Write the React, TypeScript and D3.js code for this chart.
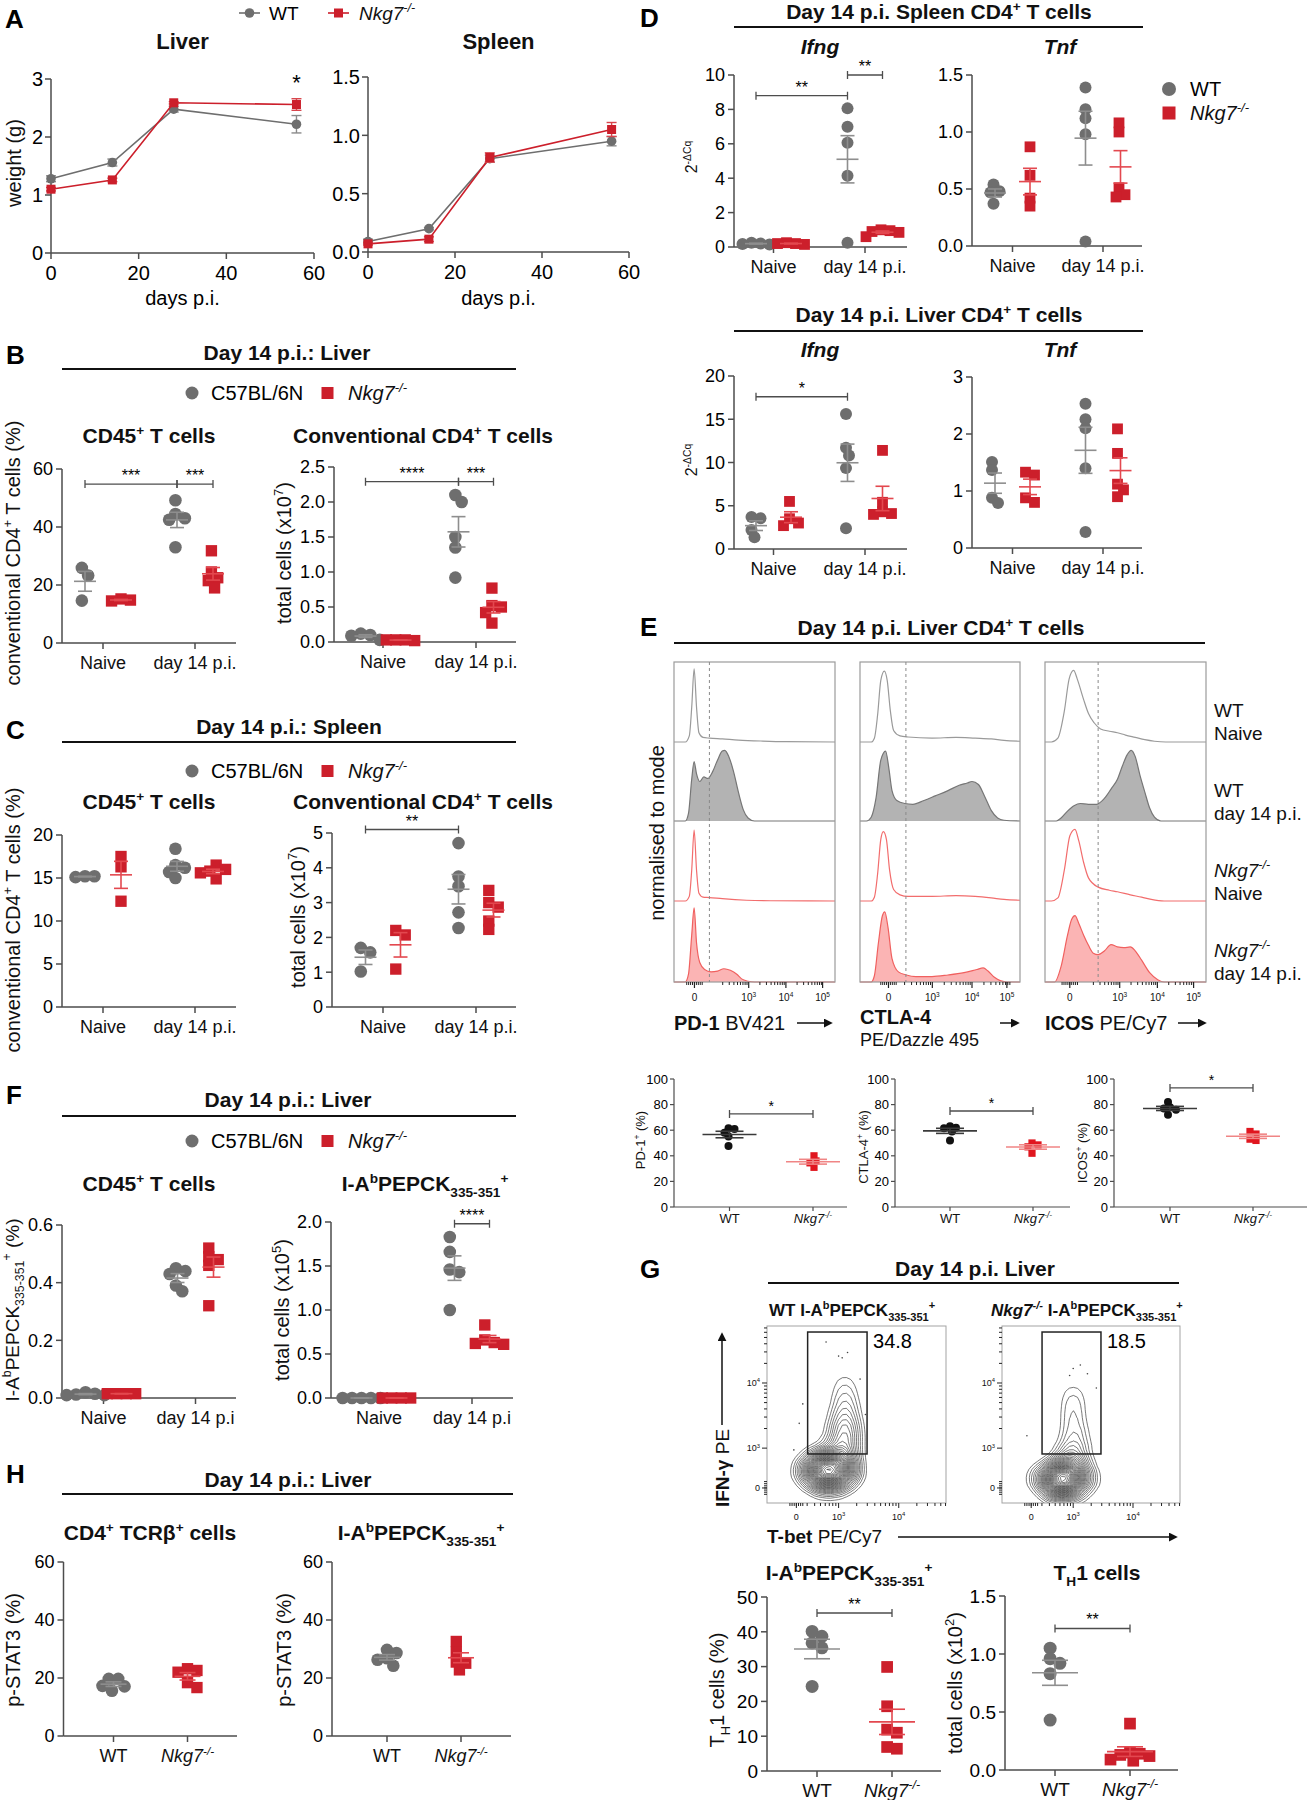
import React from 'react';
import * as d3 from 'd3';

const FONT = "'Liberation Sans', Arial, Helvetica, sans-serif";
const AX = '#4d4d4d';
const PAL = { wt: '#6e6e6e', wtE: '#8e8e8e', ko: '#cc1f2b', koE: '#e3484f' };
const PAL_E = { wt: '#111111', wtE: '#3a3a3a', ko: '#e0161f', koE: '#f08585' };

// ---- A: organ weight over time
const daysA = [0, 14, 28, 56];
const liverWT = [1.28, 1.56, 2.48, 2.22];
const liverWTsem = [0.05, 0.06, 0.05, 0.15];
const liverKO = [1.1, 1.26, 2.59, 2.56];
const liverKOsem = [0.03, 0.03, 0.02, 0.1];
const spleenWT = [0.09, 0.2, 0.8, 0.95];
const spleenWTsem = [0.02, 0.01, 0.03, 0.04];
const spleenKO = [0.07, 0.11, 0.81, 1.05];
const spleenKOsem = [0.01, 0.02, 0.04, 0.06];

const stageCats = ['Naive', 'day 14 p.i.'];
const stageCatsF = ['Naive', 'day 14 p.i'];
const genoCats = ['WT', 'Nkg7-/-'];

// ---- B: liver
const bPctWT = [[25.9, 23.3, 14.6], [49.2, 44.5, 43, 42.5, 33]];
const bPctKO = [[15.2, 14.8, 14.5], [31.8, 24.5, 22.5, 21.5, 19]];
const bNumWT = [[0.12, 0.1, 0.09, 0.03], [2.1, 2.0, 1.5, 1.35, 0.92]];
const bNumKO = [[0.03, 0.03, 0.03, 0.02], [0.77, 0.52, 0.5, 0.42, 0.27]];
// ---- C: spleen
const cPctWT = [[15.2, 15.1, 15.2], [18.4, 16.5, 16.2, 15.7, 15.0]];
const cPctKO = [[17.5, 16.3, 12.3], [16.5, 16.0, 15.8, 15.6, 14.9]];
const cNumWT = [[1.7, 1.57, 1.02], [4.71, 3.75, 3.47, 2.72, 2.27]];
const cNumKO = [[2.2, 2.07, 1.09], [3.35, 3.0, 2.87, 2.47, 2.23]];
// ---- D: qPCR
const dSpIfngWT = [[0.15, 0.2, 0.25, 0.18], [8.06, 6.99, 6.06, 4.14, 0.25]];
const dSpIfngKO = [[0.15, 0.2, 0.25, 0.2], [1.0, 0.95, 0.9, 0.85, 0.6]];
const dSpTnfWT = [[0.54, 0.48, 0.47, 0.37], [1.39, 1.2, 1.12, 0.98, 0.04]];
const dSpTnfKO = [[0.87, 0.62, 0.42, 0.35], [1.08, 1.0, 0.51, 0.45, 0.43]];
const dLvIfngWT = [[3.55, 3.7, 2.2, 1.35], [15.6, 11.7, 10.8, 9.35, 2.4]];
const dLvIfngKO = [[5.5, 3.5, 3.0, 2.7], [11.4, 5.4, 4.3, 4.1, 4.0]];
const dLvTnfWT = [[1.51, 1.37, 0.88, 0.79], [2.53, 2.26, 2.1, 1.4, 0.28]];
const dLvTnfKO = [[1.33, 1.28, 0.88, 0.8], [2.09, 1.66, 1.12, 1.02, 0.9]];
// ---- E: % positive
const ePd1WT = [61.5, 61, 58, 55, 47.6];
const ePd1KO = [40, 36, 34.5, 31];
const eCtlaWT = [63, 62, 61.5, 59, 52];
const eCtlaKO = [50, 48.5, 47, 42];
const eIcosWT = [82, 78, 77, 76, 72];
const eIcosKO = [59, 57, 53, 52];
// E: histogram profiles [position in box, height relative to row]
const histPD1 = [
  [[0, 0], [0.07, 0], [0.095, 0.08], [0.11, 0.45], [0.125, 0.95], [0.14, 0.45], [0.155, 0.12], [0.18, 0.06], [0.22, 0.05], [0.3, 0.04], [0.4, 0.025], [0.55, 0.012], [0.7, 0.004], [1, 0]],
  [[0, 0], [0.07, 0], [0.09, 0.1], [0.11, 0.55], [0.125, 0.78], [0.14, 0.62], [0.16, 0.52], [0.185, 0.58], [0.21, 0.56], [0.24, 0.65], [0.27, 0.8], [0.3, 0.92], [0.315, 0.93], [0.34, 0.85], [0.37, 0.65], [0.4, 0.38], [0.43, 0.15], [0.46, 0.04], [0.5, 0], [1, 0]],
  [[0, 0], [0.07, 0], [0.095, 0.06], [0.11, 0.4], [0.125, 0.92], [0.14, 0.4], [0.155, 0.1], [0.18, 0.05], [0.22, 0.045], [0.3, 0.03], [0.45, 0.01], [0.6, 0.003], [1, 0]],
  [[0, 0], [0.07, 0], [0.09, 0.1], [0.11, 0.6], [0.125, 0.95], [0.14, 0.5], [0.16, 0.25], [0.19, 0.16], [0.23, 0.13], [0.27, 0.14], [0.31, 0.17], [0.35, 0.15], [0.39, 0.1], [0.42, 0.04], [0.46, 0.01], [0.5, 0], [1, 0]],
];
const histCTLA4 = [
  [[0, 0], [0.07, 0], [0.09, 0.05], [0.11, 0.35], [0.13, 0.8], [0.152, 0.92], [0.17, 0.8], [0.19, 0.4], [0.21, 0.15], [0.25, 0.08], [0.3, 0.065], [0.45, 0.05], [0.6, 0.06], [0.72, 0.05], [0.82, 0.04], [0.9, 0.02], [1, 0.01]],
  [[0, 0], [0.04, 0], [0.07, 0.05], [0.1, 0.3], [0.13, 0.8], [0.16, 0.92], [0.18, 0.7], [0.2, 0.4], [0.23, 0.27], [0.28, 0.23], [0.33, 0.22], [0.4, 0.27], [0.47, 0.33], [0.55, 0.4], [0.62, 0.47], [0.67, 0.5], [0.7, 0.52], [0.74, 0.48], [0.78, 0.32], [0.82, 0.14], [0.86, 0.04], [0.9, 0.01], [1, 0]],
  [[0, 0], [0.07, 0], [0.09, 0.05], [0.11, 0.35], [0.13, 0.8], [0.146, 0.9], [0.165, 0.8], [0.185, 0.4], [0.21, 0.15], [0.25, 0.08], [0.3, 0.06], [0.45, 0.06], [0.6, 0.07], [0.72, 0.06], [0.82, 0.04], [0.9, 0.02], [1, 0.01]],
  [[0, 0], [0.07, 0], [0.09, 0.08], [0.115, 0.5], [0.14, 0.85], [0.155, 0.9], [0.175, 0.7], [0.2, 0.3], [0.24, 0.13], [0.29, 0.09], [0.35, 0.07], [0.45, 0.07], [0.55, 0.09], [0.65, 0.12], [0.73, 0.16], [0.77, 0.18], [0.8, 0.14], [0.84, 0.06], [0.88, 0.015], [0.92, 0], [1, 0]],
];
const histICOS = [
  [[0, 0], [0.04, 0], [0.08, 0.05], [0.12, 0.4], [0.15, 0.82], [0.178, 0.93], [0.2, 0.82], [0.24, 0.55], [0.27, 0.37], [0.305, 0.25], [0.345, 0.17], [0.4, 0.14], [0.45, 0.12], [0.5, 0.09], [0.56, 0.06], [0.62, 0.03], [0.68, 0.01], [0.75, 0], [1, 0]],
  [[0, 0], [0.07, 0], [0.1, 0.04], [0.14, 0.13], [0.18, 0.2], [0.22, 0.23], [0.27, 0.22], [0.32, 0.22], [0.37, 0.3], [0.41, 0.42], [0.45, 0.55], [0.48, 0.72], [0.51, 0.87], [0.535, 0.93], [0.56, 0.85], [0.59, 0.6], [0.62, 0.38], [0.65, 0.17], [0.68, 0.05], [0.72, 0], [1, 0]],
  [[0, 0], [0.04, 0], [0.08, 0.04], [0.12, 0.4], [0.155, 0.85], [0.186, 0.93], [0.21, 0.78], [0.24, 0.5], [0.27, 0.3], [0.33, 0.18], [0.4, 0.14], [0.45, 0.12], [0.53, 0.08], [0.6, 0.05], [0.66, 0.02], [0.74, 0], [1, 0]],
  [[0, 0], [0.06, 0], [0.1, 0.2], [0.14, 0.6], [0.165, 0.8], [0.186, 0.85], [0.21, 0.75], [0.24, 0.6], [0.27, 0.47], [0.3, 0.37], [0.33, 0.35], [0.37, 0.4], [0.41, 0.48], [0.45, 0.45], [0.49, 0.44], [0.53, 0.45], [0.56, 0.4], [0.6, 0.28], [0.65, 0.12], [0.7, 0.03], [0.74, 0], [1, 0]],
];
const histDash = [0.22, 0.287, 0.33];
const histTickPos = [[0.127, 0.464, 0.695, 0.923], [0.178, 0.452, 0.7, 0.918], [0.154, 0.464, 0.698, 0.923]];
const histRowLabels = [['WT', 'Naive'], ['WT', 'day 14 p.i.'], ['Nkg7', 'Naive'], ['Nkg7', 'day 14 p.i.']];

// ---- F: tetramer+ cells
const fPctWT = [[0.02, 0.015, 0.012, 0.01, 0.01], [0.45, 0.44, 0.43, 0.39, 0.37]];
const fPctKO = [[0.015, 0.015, 0.015, 0.015], [0.52, 0.49, 0.48, 0.46, 0.32]];
const fNumWT = [[0, 0, 0, 0, 0], [1.83, 1.66, 1.46, 1.43, 1.0]];
const fNumKO = [[0, 0, 0, 0], [0.83, 0.66, 0.63, 0.62, 0.61]];

// ---- G: contour events [T-bet, IFN-g, weight] in plot fractions
const gWtEvents = [
  [0.34, 0.81, 14], [0.28, 0.81, 9], [0.40, 0.81, 9], [0.22, 0.80, 4], [0.46, 0.80, 5], [0.31, 0.86, 7], [0.38, 0.86, 7],
  [0.34, 0.76, 6], [0.25, 0.86, 3], [0.44, 0.86, 3], [0.18, 0.84, 1.5], [0.50, 0.85, 1.5], [0.30, 0.92, 2], [0.40, 0.92, 2],
  [0.26, 0.74, 2], [0.40, 0.74, 5], [0.45, 0.74, 3], [0.42, 0.68, 4], [0.45, 0.64, 3], [0.42, 0.60, 3.2], [0.45, 0.56, 2.8],
  [0.42, 0.52, 2.6], [0.45, 0.48, 2.3], [0.43, 0.44, 2], [0.44, 0.40, 1.7], [0.43, 0.35, 1.4], [0.44, 0.31, 1.0], [0.43, 0.27, 0.6],
  [0.37, 0.66, 1.5], [0.49, 0.68, 1.5], [0.48, 0.58, 1.2], [0.38, 0.56, 1.2], [0.30, 0.68, 0.8],
];
const gKoEvents = [
  [0.34, 0.86, 16], [0.28, 0.86, 9], [0.40, 0.86, 9], [0.22, 0.85, 4], [0.46, 0.85, 5], [0.31, 0.91, 7], [0.38, 0.91, 6],
  [0.34, 0.81, 6], [0.18, 0.88, 1.5], [0.52, 0.88, 1.5], [0.28, 0.95, 2], [0.42, 0.95, 2], [0.38, 0.77, 4], [0.42, 0.77, 3],
  [0.39, 0.71, 3], [0.40, 0.65, 2.6], [0.40, 0.59, 2.3], [0.40, 0.53, 2.2], [0.40, 0.46, 2.6], [0.40, 0.41, 1.5], [0.40, 0.36, 0.9],
  [0.40, 0.33, 0.5], [0.33, 0.72, 1.2], [0.47, 0.72, 1.2], [0.45, 0.62, 1],
];
const gWtDots = [[0.33, 0.09], [0.40, 0.17], [0.42, 0.18], [0.45, 0.15], [0.2, 0.44], [0.18, 0.55], [0.52, 0.3], [0.55, 0.5], [0.15, 0.7]];
const gKoDots = [[0.4, 0.24], [0.44, 0.22], [0.48, 0.27], [0.14, 0.62], [0.53, 0.35], [0.38, 0.28]];
const gGateWT = [0.227, 0.034, 0.559, 0.723];
const gGateKO = [0.225, 0.034, 0.556, 0.723];
const gPctWT = '34.8';
const gPctKO = '18.5';
const gTh1PctWT = [40.1, 38.7, 36.8, 35.4, 24.3];
const gTh1PctKO = [29.9, 18.6, 11.9, 11.0, 6.9, 6.4];
const gTh1NumWT = [1.05, 0.96, 0.92, 0.83, 0.43];
const gTh1NumKO = [0.4, 0.15, 0.14, 0.13, 0.12, 0.09, 0.08];

// ---- H: p-STAT3
const hCd4WT = [19.7, 19.7, 17.3, 17.1, 15.6];
const hCd4KO = [23.2, 22.6, 22.0, 18.4, 16.7];
const hTetWT = [29.7, 28.6, 26.8, 26.3, 24.2];
const hTetKO = [32.6, 28.9, 25.5, 25.1, 22.8];

const f1 = d3.format('.1f');
const NKG = [['Nkg7', 'i'], ['-/-', 'i,sup']];
const PEPCK = ['I-A', ['b', 'sup'], 'PEPCK', ['335-351', 'sub'], ['+', 'sup']];

function T({ x, y, segs, size = 18, anchor = 'start', weight, rotate, fill = '#111' }: any) {
  let cur = 0;
  const items = segs.map((s: any, i: number) => {
    const [t, m = ''] = Array.isArray(s) ? s : [s, ''];
    const f = m.split(',');
    let tgt = 0;
    let fsz = size;
    if (f.includes('sup')) { tgt = -0.4 * size; fsz = 0.65 * size; }
    if (f.includes('sub')) { tgt = 0.28 * size; fsz = 0.65 * size; }
    const dy = tgt - cur;
    cur = tgt;
    return (
      <tspan key={i} dy={dy || undefined} fontSize={fsz}
        fontStyle={f.includes('i') ? 'italic' : undefined}
        fontWeight={f.includes('b') ? 'bold' : f.includes('n') ? 'normal' : undefined}>{t}</tspan>
    );
  });
  return (
    <text x={x} y={y} textAnchor={anchor} fontSize={size} fontWeight={weight} fill={fill}
      transform={rotate ? `rotate(${rotate} ${x} ${y})` : undefined}>{items}</text>
  );
}

// spread overlapping markers sideways, like a column scatter
function dodge(ys: number[], r: number, cx: number) {
  const order = ys.map((_, i) => i).sort((a, b) => ys[a] - ys[b]);
  const placed: { x: number; y: number }[] = [];
  const out: { x: number; y: number }[] = new Array(ys.length);
  const steps = [0];
  for (let k = 1; k <= 12; k++) steps.push(k, -k);
  for (const i of order) {
    const y = ys[i];
    let x = 0;
    for (const k of steps) {
      const c = k * 0.5 * r;
      if (placed.every((p) => Math.hypot(p.x - c, p.y - y) >= 1.3 * r)) { x = c; break; }
    }
    const pt = { x, y };
    placed.push(pt);
    out[i] = pt;
  }
  const xs = placed.map((p) => p.x);
  const shift = (Math.min(...xs) + Math.max(...xs)) / 2;
  return out.map((p) => ({ x: cx + p.x - shift, y: p.y }));
}

const pair = (wt: number[][], ko: number[][]) => [
  { c: 0, s: 0, v: wt[0] }, { c: 0, s: 1, v: ko[0] }, { c: 1, s: 0, v: wt[1] }, { c: 1, s: 1, v: ko[1] },
];
const duo = (wt: number[], ko: number[]) => [{ c: 0, s: 0, v: wt }, { c: 1, s: 1, v: ko }];

function Scatter(p: any) {
  const {
    x0, x1, yTop, yBot, max, ticks, fmt = (d: number) => String(d), cats, catRange, dx = 0, groups, sigs = [],
    fs = 18, r = 6.3, meanW = 11, semW = 7, pal = PAL, catLabels, tickLen = 6, lblGap = 26, sigFs = 16, sw = 1.5, tgap = 3,
  } = p;
  const y = d3.scaleLinear().domain([0, max]).range([yBot, yTop]);
  const xc = d3.scalePoint().domain(cats).range(catRange);
  const gx = (c: number, s: number) => (xc(cats[c]) as number) + (dx ? (s ? dx : -dx) : 0);
  return (
    <g>
      <line x1={x0} x2={x0} y1={yTop} y2={yBot} stroke={AX} strokeWidth={sw} />
      <line x1={x0} x2={x1} y1={yBot} y2={yBot} stroke={AX} strokeWidth={sw} />
      {ticks.map((t: number) => (
        <g key={t}>
          <line x1={x0 - tickLen} x2={x0} y1={y(t)} y2={y(t)} stroke={AX} strokeWidth={sw} />
          <text x={x0 - tickLen - tgap} y={y(t)} dy="0.36em" textAnchor="end" fontSize={fs}>{fmt(t)}</text>
        </g>
      ))}
      {cats.map((c: string, i: number) => (
        <g key={c}>
          <line x1={xc(c)} x2={xc(c)} y1={yBot} y2={yBot + tickLen} stroke={AX} strokeWidth={sw} />
          <T x={xc(c)} y={yBot + lblGap} anchor="middle" size={fs} segs={catLabels ? catLabels[i] : [c]} />
        </g>
      ))}
      {groups.map((g: any, gi: number) => {
        const cx = gx(g.c, g.s);
        const pts = dodge(g.v.map((v: number) => y(v)), r, cx);
        const m = d3.mean(g.v) as number;
        const sem = (d3.deviation(g.v) || 0) / Math.sqrt(g.v.length);
        const col = g.s ? pal.ko : pal.wt;
        const ecol = g.s ? pal.koE : pal.wtE;
        const a = r * 0.9;
        return (
          <g key={gi}>
            {pts.map((q, i) => (g.s
              ? <rect key={i} x={q.x - a} y={q.y - a} width={2 * a} height={2 * a} fill={col} />
              : <circle key={i} cx={q.x} cy={q.y} r={r} fill={col} />))}
            <g stroke={ecol} strokeWidth={1.6}>
              <line x1={cx} x2={cx} y1={y(m - sem)} y2={y(m + sem)} />
              <line x1={cx - meanW} x2={cx + meanW} y1={y(m)} y2={y(m)} />
              <line x1={cx - semW} x2={cx + semW} y1={y(m - sem)} y2={y(m - sem)} />
              <line x1={cx - semW} x2={cx + semW} y1={y(m + sem)} y2={y(m + sem)} />
            </g>
          </g>
        );
      })}
      {sigs.map((s: any, i: number) => {
        const xa = gx(s.a[0], s.a[1]);
        const xb = gx(s.b[0], s.b[1]);
        const yy = y(s.y);
        return (
          <g key={i}>
            <path d={`M${xa},${yy - 4}V${yy + 4}M${xa},${yy}H${xb}M${xb},${yy - 4}V${yy + 4}`} stroke={AX} strokeWidth={1.3} fill="none" />
            <text x={(xa + xb) / 2} y={yy - 3} textAnchor="middle" fontSize={sigFs}>{s.t}</text>
          </g>
        );
      })}
    </g>
  );
}

function LinePanel({ x0, x1, yTop, yBot, max, ticks, fmt = (d: number) => String(d), wt, wtE, ko, koE, title, star }: any) {
  const x = d3.scaleLinear().domain([0, 60]).range([x0, x1]);
  const y = d3.scaleLinear().domain([0, max]).range([yBot, yTop]);
  const ln = d3.line<number>().x((_, i) => x(daysA[i])).y((d) => y(d));
  const cx = (x0 + x1) / 2;
  const series = [
    { m: wt, e: wtE, c: PAL.wt, ec: '#8a8a8a', sq: false },
    { m: ko, e: koE, c: PAL.ko, ec: '#d8454c', sq: true },
  ];
  return (
    <g>
      <T x={cx} y={49} segs={[title]} size={22} weight="bold" anchor="middle" />
      <line x1={x0} x2={x0} y1={yTop} y2={yBot} stroke={AX} strokeWidth={1.5} />
      <line x1={x0} x2={x1} y1={yBot} y2={yBot} stroke={AX} strokeWidth={1.5} />
      {ticks.map((t: number) => (
        <g key={t}>
          <line x1={x0 - 6} x2={x0} y1={y(t)} y2={y(t)} stroke={AX} strokeWidth={1.5} />
          <text x={x0 - 8} y={y(t)} dy="0.36em" textAnchor="end" fontSize={20}>{fmt(t)}</text>
        </g>
      ))}
      {[0, 20, 40, 60].map((t) => (
        <g key={t}>
          <line x1={x(t)} x2={x(t)} y1={yBot} y2={yBot + 6} stroke={AX} strokeWidth={1.5} />
          <text x={x(t)} y={yBot + 27} textAnchor="middle" fontSize={20}>{t}</text>
        </g>
      ))}
      <text x={cx} y={305} textAnchor="middle" fontSize={20}>days p.i.</text>
      {series.map((s, si) => (
        <g key={si}>
          <path d={ln(s.m) as string} fill="none" stroke={s.c} strokeWidth={1.6} />
          {s.m.map((m: number, i: number) => (
            <g key={i} stroke={s.ec} strokeWidth={1.4}>
              <line x1={x(daysA[i])} x2={x(daysA[i])} y1={y(m - s.e[i])} y2={y(m + s.e[i])} />
              <line x1={x(daysA[i]) - 5} x2={x(daysA[i]) + 5} y1={y(m - s.e[i])} y2={y(m - s.e[i])} />
              <line x1={x(daysA[i]) - 5} x2={x(daysA[i]) + 5} y1={y(m + s.e[i])} y2={y(m + s.e[i])} />
            </g>
          ))}
          {s.m.map((m: number, i: number) => (s.sq
            ? <rect key={'m' + i} x={x(daysA[i]) - 4.5} y={y(m) - 4.5} width={9} height={9} fill={s.c} />
            : <circle key={'m' + i} cx={x(daysA[i])} cy={y(m)} r={4.8} fill={s.c} />))}
        </g>
      ))}
      {star && <text x={x(56)} y={90} textAnchor="middle" fontSize={22}>*</text>}
    </g>
  );
}

const HIST_Y = [662, 742, 821, 901, 982];
const HIST_STYLE = [
  { fill: 'none', stroke: '#9a9a9a' },
  { fill: '#b3b3b3', stroke: '#767676' },
  { fill: 'none', stroke: '#f26d6d' },
  { fill: '#fbb4b4', stroke: '#f0605f' },
];

function Hist({ x0, x1, rows, dash, tp }: any) {
  const x = d3.scaleLinear().domain([0, 1]).range([x0, x1]);
  const dec = tp[2] - tp[1];
  const minors: number[] = [];
  for (let m = 2; m <= 9; m++) {
    const l = Math.log10(m);
    [tp[1] - dec + dec * l, tp[1] + dec * l, tp[2] + dec * l].forEach((v) => {
      if (v > tp[0] + 0.06 && v < 1) minors.push(v);
    });
  }
  for (let k = -4; k <= 4; k++) minors.push(tp[0] + k * 0.012);
  return (
    <g>
      {rows.map((pts: number[][], i: number) => {
        const bot = HIST_Y[i + 1];
        const hh = bot - HIST_Y[i] - 3;
        const st = HIST_STYLE[i];
        const area = d3.area<number[]>().x((d) => x(d[0])).y0(bot).y1((d) => bot - d[1] * hh).curve(d3.curveMonotoneX);
        const ln = d3.line<number[]>().x((d) => x(d[0])).y((d) => bot - d[1] * hh).curve(d3.curveMonotoneX);
        return (
          <g key={i}>
            {st.fill !== 'none' && <path d={area(pts) as string} fill={st.fill} />}
            <path d={ln(pts) as string} fill="none" stroke={st.stroke} strokeWidth={1.2} />
          </g>
        );
      })}
      <rect x={x0} y={HIST_Y[0]} width={x1 - x0} height={HIST_Y[4] - HIST_Y[0]} fill="none" stroke="#9b9b9b" strokeWidth={1.2} />
      <line x1={x(dash)} x2={x(dash)} y1={HIST_Y[0]} y2={HIST_Y[4]} stroke="#8a8a8a" strokeDasharray="3,3" />
      {minors.map((v, i) => <line key={i} x1={x(v)} x2={x(v)} y1={982} y2={985} stroke="#222" strokeWidth={1} />)}
      {tp.map((v: number, i: number) => (
        <g key={'t' + i}>
          <line x1={x(v)} x2={x(v)} y1={982} y2={988} stroke="#222" strokeWidth={1.2} />
          <T x={x(v)} y={1001} anchor="middle" size={10} segs={i === 0 ? ['0'] : ['10', [String(i + 2), 'sup']]} />
        </g>
      ))}
    </g>
  );
}

function Contour({ id, x0, y0, w, h, events, dots, gate, num }: any) {
  const dens = d3.contourDensity<number[]>()
    .x((d) => d[0] * w).y((d) => d[1] * h).weight((d) => d[2])
    .size([w, h]).bandwidth(8).thresholds(30)(events);
  const gp = d3.geoPath();
  const yp = { p0: 0.915, p3: 0.69, p4: 0.322 };
  const xp = { p0: 0.164, p3: 0.4, p4: 0.736 };
  const yMin: number[] = [];
  const xMin: number[] = [];
  for (let m = 2; m <= 9; m++) {
    const l = Math.log10(m);
    [yp.p3 + (yp.p4 - yp.p3) * l, yp.p4 + (yp.p4 - yp.p3) * l].forEach((v) => { if (v > 0) yMin.push(v); });
    [xp.p3 + (xp.p4 - xp.p3) * l, xp.p4 + (xp.p4 - xp.p3) * l, xp.p3 - (xp.p4 - xp.p3) * (1 - l)].forEach((v) => {
      if (v < 1 && v > xp.p0 + 0.05) xMin.push(v);
    });
  }
  for (let k = -3; k <= 3; k++) { yMin.push(yp.p0 + k * 0.012); xMin.push(xp.p0 + k * 0.012); }
  return (
    <g transform={`translate(${x0},${y0})`}>
      <defs><clipPath id={id}><rect x={0} y={0} width={w} height={h} /></clipPath></defs>
      <g clipPath={`url(#${id})`}>
        {dens.slice(1).map((c, i) => <path key={i} d={gp(c) as string} fill="none" stroke="#1e1e1e" strokeWidth={0.6} />)}
        {dots.map((d: number[], i: number) => <circle key={i} cx={d[0] * w} cy={d[1] * h} r={0.8} fill="#444" />)}
      </g>
      <rect x={0} y={0} width={w} height={h} fill="none" stroke="#a3a3a3" />
      <rect x={gate[0] * w} y={gate[1] * h} width={(gate[2] - gate[0]) * w} height={(gate[3] - gate[1]) * h}
        fill="none" stroke="#222" strokeWidth={1.5} />
      <text x={gate[2] * w + 6} y={22} fontSize={20}>{num}</text>
      {yMin.map((v, i) => <line key={'y' + i} x1={-3} x2={0} y1={v * h} y2={v * h} stroke="#222" />)}
      {xMin.map((v, i) => <line key={'x' + i} x1={v * w} x2={v * w} y1={h} y2={h + 3} stroke="#222" />)}
      {[yp.p4, yp.p3, yp.p0].map((v, i) => (
        <g key={'yl' + i}>
          <line x1={-5} x2={0} y1={v * h} y2={v * h} stroke="#222" />
          <T x={-7} y={v * h + 3} anchor="end" size={9} segs={i === 2 ? ['0'] : ['10', [String(4 - i), 'sup']]} />
        </g>
      ))}
      {[xp.p0, xp.p3, xp.p4].map((v, i) => (
        <g key={'xl' + i}>
          <line x1={v * w} x2={v * w} y1={h} y2={h + 5} stroke="#222" />
          <T x={v * w} y={h + 17} anchor="middle" size={9} segs={i === 0 ? ['0'] : ['10', [String(i + 2), 'sup']]} />
        </g>
      ))}
    </g>
  );
}

function Legend({ y }: any) {
  return (
    <g>
      <circle cx={192} cy={y} r={6.5} fill={PAL.wt} />
      <text x={211} y={y + 7} fontSize={20}>C57BL/6N</text>
      <rect x={321.5} y={y - 6} width={12} height={12} fill={PAL.ko} />
      <T x={348} y={y + 7} size={20} segs={NKG} />
    </g>
  );
}

function Header({ cx, y, text, x1, x2, ly, size = 21 }: any) {
  return (
    <g>
      <T x={cx} y={y} anchor="middle" size={size} weight="bold" segs={text} />
      <line x1={x1} x2={x2} y1={ly} y2={ly} stroke="#111" strokeWidth={2} />
    </g>
  );
}

const genoLab = [['WT'], NKG];

export default function App() {
  const letter = (t: string, x: number, y: number) => <text x={x} y={y} fontSize={26} fontWeight="bold">{t}</text>;
  const eDot = { fs: 13, r: 4, meanW: 27, semW: 14, pal: PAL_E, tickLen: 4, lblGap: 16, sigFs: 14, sw: 1.2, tgap: 2, catLabels: genoLab };
  return (
    <svg width={1309} height={1800} viewBox="0 0 1309 1800"
      style={{ position: 'absolute', left: 0, top: 0, background: '#fff', fontFamily: FONT }}>
      <defs>
        <marker id="arr" viewBox="0 0 10 10" refX={8} refY={5} markerWidth={6} markerHeight={6} orient="auto">
          <path d="M0,0L10,5L0,10z" fill="#111" />
        </marker>
      </defs>
      <rect width={1309} height={1800} fill="#fff" />

      {/* A */}
      {letter('A', 5, 28)}
      <line x1={239} x2={260} y1={13} y2={13} stroke={PAL.wt} strokeWidth={1.6} />
      <circle cx={249.5} cy={13} r={4.8} fill={PAL.wt} />
      <text x={269} y={20} fontSize={19}>WT</text>
      <line x1={328} x2={349} y1={13} y2={13} stroke={PAL.ko} strokeWidth={1.6} />
      <rect x={334} y={8.5} width={9} height={9} fill={PAL.ko} />
      <T x={359} y={20} size={19} segs={NKG} />
      <LinePanel x0={51} x1={314} yTop={79} yBot={253} max={3} ticks={[0, 1, 2, 3]} title="Liver" star
        wt={liverWT} wtE={liverWTsem} ko={liverKO} koE={liverKOsem} />
      <LinePanel x0={368} x1={629} yTop={77} yBot={252} max={1.5} ticks={[0, 0.5, 1, 1.5]} fmt={f1} title="Spleen"
        wt={spleenWT} wtE={spleenWTsem} ko={spleenKO} koE={spleenKOsem} />
      <T x={21} y={163} rotate={-90} anchor="middle" size={20} segs={['weight (g)']} />

      {/* B */}
      {letter('B', 6, 364)}
      <Header cx={287} y={360} text={['Day 14 p.i.: Liver']} x1={62} x2={516} ly={369} />
      <Legend y={393} />
      <T x={149} y={443} anchor="middle" size={21} weight="bold" segs={['CD45', ['+', 'sup'], ' T cells']} />
      <T x={423} y={443} anchor="middle" size={21} weight="bold" segs={['Conventional CD4', ['+', 'sup'], ' T cells']} />
      <Scatter x0={62} x1={236} yTop={469} yBot={643} max={60} ticks={[0, 20, 40, 60]} cats={stageCats}
        catRange={[103, 195]} dx={18} groups={pair(bPctWT, bPctKO)}
        sigs={[{ a: [0, 0], b: [1, 0], y: 54.8, t: '***' }, { a: [1, 0], b: [1, 1], y: 54.8, t: '***' }]} />
      <Scatter x0={334} x1={516} yTop={467} yBot={642} max={2.5} ticks={[0, 0.5, 1, 1.5, 2, 2.5]} fmt={f1}
        cats={stageCats} catRange={[383, 476]} dx={17.5} groups={pair(bNumWT, bNumKO)}
        sigs={[{ a: [0, 0], b: [1, 0], y: 2.29, t: '****' }, { a: [1, 0], b: [1, 1], y: 2.29, t: '***' }]} />
      <T x={20} y={553} rotate={-90} anchor="middle" size={20} segs={['conventional CD4', ['+', 'sup'], ' T cells (%)']} />
      <T x={291} y={553} rotate={-90} anchor="middle" size={20} segs={['total cells (x10', ['7', 'sup'], ')']} />

      {/* C */}
      {letter('C', 6, 739)}
      <Header cx={289} y={734} text={['Day 14 p.i.: Spleen']} x1={62} x2={516} ly={742} />
      <Legend y={771} />
      <T x={149} y={809} anchor="middle" size={21} weight="bold" segs={['CD45', ['+', 'sup'], ' T cells']} />
      <T x={423} y={809} anchor="middle" size={21} weight="bold" segs={['Conventional CD4', ['+', 'sup'], ' T cells']} />
      <Scatter x0={62} x1={236} yTop={835} yBot={1007} max={20} ticks={[0, 5, 10, 15, 20]} cats={stageCats}
        catRange={[103, 195]} dx={18} groups={pair(cPctWT, cPctKO)} />
      <Scatter x0={332} x1={516} yTop={833} yBot={1007} max={5} ticks={[0, 1, 2, 3, 4, 5]} cats={stageCats}
        catRange={[383, 476]} dx={17.5} groups={pair(cNumWT, cNumKO)}
        sigs={[{ a: [0, 0], b: [1, 0], y: 5.1, t: '**' }]} />
      <T x={20} y={920} rotate={-90} anchor="middle" size={20} segs={['conventional CD4', ['+', 'sup'], ' T cells (%)']} />
      <T x={305} y={917} rotate={-90} anchor="middle" size={20} segs={['total cells (x10', ['7', 'sup'], ')']} />

      {/* D */}
      {letter('D', 640, 27)}
      <Header cx={939} y={19} text={['Day 14 p.i. Spleen CD4', ['+', 'sup'], ' T cells']} x1={734} x2={1143} ly={27} />
      <T x={820} y={54} anchor="middle" size={21} segs={[['Ifng', 'b,i']]} />
      <T x={1060} y={54} anchor="middle" size={21} segs={[['Tnf', 'b,i']]} />
      <Scatter x0={734} x1={907} yTop={75} yBot={247} max={10} ticks={[0, 2, 4, 6, 8, 10]} cats={stageCats}
        catRange={[773.5, 865]} dx={17.5} r={6} groups={pair(dSpIfngWT, dSpIfngKO)}
        sigs={[{ a: [0, 0], b: [1, 0], y: 8.8, t: '**' }, { a: [1, 0], b: [1, 1], y: 10, t: '**' }]} />
      <Scatter x0={972} x1={1142} yTop={75} yBot={246} max={1.5} ticks={[0, 0.5, 1, 1.5]} fmt={f1} cats={stageCats}
        catRange={[1012.5, 1103]} dx={17.5} r={6} groups={pair(dSpTnfWT, dSpTnfKO)} />
      <T x={697} y={157} rotate={-90} anchor="middle" size={16} segs={['2', ['-ΔCq', 'sup']]} />
      <circle cx={1169} cy={89} r={7} fill={PAL.wt} />
      <text x={1190} y={96} fontSize={20}>WT</text>
      <rect x={1162.5} y={106.5} width={13} height={13} fill={PAL.ko} />
      <T x={1190} y={120} size={20} segs={NKG} />

      <Header cx={939} y={322} text={['Day 14 p.i. Liver CD4', ['+', 'sup'], ' T cells']} x1={734} x2={1143} ly={331} />
      <T x={820} y={357} anchor="middle" size={21} segs={[['Ifng', 'b,i']]} />
      <T x={1060} y={357} anchor="middle" size={21} segs={[['Tnf', 'b,i']]} />
      <Scatter x0={734} x1={907} yTop={376} yBot={549} max={20} ticks={[0, 5, 10, 15, 20]} cats={stageCats}
        catRange={[773.5, 865]} dx={17.5} r={6} groups={pair(dLvIfngWT, dLvIfngKO)}
        sigs={[{ a: [0, 0], b: [1, 0], y: 17.6, t: '*' }]} />
      <Scatter x0={972} x1={1142} yTop={377} yBot={548} max={3} ticks={[0, 1, 2, 3]} cats={stageCats}
        catRange={[1012.5, 1103]} dx={17.5} r={6} groups={pair(dLvTnfWT, dLvTnfKO)} />
      <T x={697} y={460} rotate={-90} anchor="middle" size={16} segs={['2', ['-ΔCq', 'sup']]} />

      {/* E */}
      {letter('E', 640, 636)}
      <Header cx={941} y={635} text={['Day 14 p.i. Liver CD4', ['+', 'sup'], ' T cells']} x1={674} x2={1205} ly={643} />
      <Hist x0={674} x1={835} rows={histPD1} dash={histDash[0]} tp={histTickPos[0]} />
      <Hist x0={860} x1={1020} rows={histCTLA4} dash={histDash[1]} tp={histTickPos[1]} />
      <Hist x0={1045} x1={1206} rows={histICOS} dash={histDash[2]} tp={histTickPos[2]} />
      {histRowLabels.map((l, i) => (
        <g key={i}>
          <T x={1214} y={[717, 797, 877, 957][i]} size={19} segs={l[0] === 'Nkg7' ? NKG : [l[0]]} />
          <T x={1214} y={[740, 820, 900, 980][i]} size={19} segs={[l[1]]} />
        </g>
      ))}
      <T x={664} y={833} rotate={-90} anchor="middle" size={20} segs={['normalised to mode']} />
      <T x={674} y={1030} size={20} segs={[['PD-1', 'b'], ' BV421']} />
      <line x1={797} x2={831} y1={1023} y2={1023} stroke="#111" strokeWidth={1.5} markerEnd="url(#arr)" />
      <T x={860} y={1024} size={20} segs={[['CTLA-4', 'b']]} />
      <T x={860} y={1046} size={18} segs={['PE/Dazzle 495']} />
      <line x1={1000} x2={1018} y1={1023} y2={1023} stroke="#111" strokeWidth={1.5} markerEnd="url(#arr)" />
      <T x={1045} y={1030} size={20} segs={[['ICOS', 'b'], ' PE/Cy7']} />
      <line x1={1178} x2={1205} y1={1023} y2={1023} stroke="#111" strokeWidth={1.5} markerEnd="url(#arr)" />

      <Scatter x0={674} x1={847} yTop={1079} yBot={1207} max={100} ticks={[0, 20, 40, 60, 80, 100]} cats={genoCats}
        catRange={[729.5, 813]} groups={duo(ePd1WT, ePd1KO)} {...eDot} sigs={[{ a: [0, 0], b: [1, 1], y: 72.7, t: '*' }]} />
      <Scatter x0={895} x1={1070} yTop={1079} yBot={1207} max={100} ticks={[0, 20, 40, 60, 80, 100]} cats={genoCats}
        catRange={[950, 1033]} groups={duo(eCtlaWT, eCtlaKO)} {...eDot} sigs={[{ a: [0, 0], b: [1, 1], y: 75, t: '*' }]} />
      <Scatter x0={1114} x1={1307} yTop={1079} yBot={1207} max={100} ticks={[0, 20, 40, 60, 80, 100]} cats={genoCats}
        catRange={[1170, 1253]} groups={duo(eIcosWT, eIcosKO)} {...eDot} sigs={[{ a: [0, 0], b: [1, 1], y: 93, t: '*' }]} />
      <T x={645} y={1140} rotate={-90} anchor="middle" size={13} segs={['PD-1', ['+', 'sup'], ' (%)']} />
      <T x={868} y={1147} rotate={-90} anchor="middle" size={13} segs={['CTLA-4', ['+', 'sup'], ' (%)']} />
      <T x={1087} y={1153} rotate={-90} anchor="middle" size={13} segs={['ICOS', ['+', 'sup'], ' (%)']} />

      {/* F */}
      {letter('F', 6, 1104)}
      <Header cx={288} y={1107} text={['Day 14 p.i.: Liver']} x1={62} x2={516} ly={1116} />
      <Legend y={1141} />
      <T x={149} y={1191} anchor="middle" size={21} weight="bold" segs={['CD45', ['+', 'sup'], ' T cells']} />
      <T x={425} y={1191} anchor="middle" size={21} weight="bold" segs={PEPCK} />
      <Scatter x0={62} x1={236} yTop={1225} yBot={1398} max={0.6} ticks={[0, 0.2, 0.4, 0.6]} fmt={f1} cats={stageCatsF}
        catRange={[103.5, 195.5]} dx={18} groups={pair(fPctWT, fPctKO)} />
      <Scatter x0={331} x1={513} yTop={1222} yBot={1398} max={2} ticks={[0, 0.5, 1, 1.5, 2]} fmt={f1} cats={stageCatsF}
        catRange={[379, 472]} dx={17.5} groups={pair(fNumWT, fNumKO)}
        sigs={[{ a: [1, 0], b: [1, 1], y: 1.98, t: '****' }]} />
      <T x={19} y={1310} rotate={-90} anchor="middle" size={19} segs={['I-A', ['b', 'sup'], 'PEPCK', ['335-351', 'sub'], ['+', 'sup'], ' (%)']} />
      <T x={289} y={1310} rotate={-90} anchor="middle" size={20} segs={['total cells (x10', ['5', 'sup'], ')']} />

      {/* G */}
      {letter('G', 640, 1278)}
      <Header cx={975} y={1276} text={['Day 14 p.i. Liver']} x1={768} x2={1179} ly={1283} />
      <T x={769} y={1316} size={17} weight="bold" segs={['WT ', ...PEPCK]} />
      <T x={991} y={1316} size={17} weight="bold" segs={[...NKG, ' ', ...PEPCK]} />
      <Contour id="cwt" x0={767} y0={1326} w={179} h={177} events={gWtEvents} dots={gWtDots} gate={gGateWT} num={gPctWT} />
      <Contour id="cko" x0={1002} y0={1326} w={178} h={177} events={gKoEvents} dots={gKoDots} gate={gGateKO} num={gPctKO} />
      <T x={729} y={1468} rotate={-90} anchor="middle" size={19} segs={[['IFN-γ', 'b'], ' PE']} />
      <line x1={722} x2={722} y1={1425} y2={1334} stroke="#111" strokeWidth={1.5} markerEnd="url(#arr)" />
      <T x={767} y={1543} size={19} segs={[['T-bet', 'b'], ' PE/Cy7']} />
      <line x1={898} x2={1176} y1={1537} y2={1537} stroke="#111" strokeWidth={1.5} markerEnd="url(#arr)" />

      <T x={849} y={1580} anchor="middle" size={21} weight="bold" segs={PEPCK} />
      <T x={1097} y={1580} anchor="middle" size={21} weight="bold" segs={['T', ['H', 'sub'], '1 cells']} />
      <Scatter x0={767} x1={941} yTop={1597} yBot={1771} max={50} ticks={[0, 10, 20, 30, 40, 50]} cats={genoCats}
        catRange={[817, 892]} groups={duo(gTh1PctWT, gTh1PctKO)} catLabels={genoLab} r={6.5} meanW={23} semW={13} fs={19}
        sigs={[{ a: [0, 0], b: [1, 1], y: 45.4, t: '**' }]} />
      <Scatter x0={1005} x1={1178} yTop={1596} yBot={1770} max={1.5} ticks={[0, 0.5, 1, 1.5]} fmt={f1} cats={genoCats}
        catRange={[1055, 1130]} groups={duo(gTh1NumWT, gTh1NumKO)} catLabels={genoLab} r={6.5} meanW={23} semW={13} fs={19}
        sigs={[{ a: [0, 0], b: [1, 1], y: 1.22, t: '**' }]} />
      <T x={724} y={1690} rotate={-90} anchor="middle" size={20} segs={['T', ['H', 'sub'], '1 cells (%)']} />
      <T x={962} y={1683} rotate={-90} anchor="middle" size={20} segs={['total cells (x10', ['2', 'sup'], ')']} />

      {/* H */}
      {letter('H', 6, 1483)}
      <Header cx={288} y={1487} text={['Day 14 p.i.: Liver']} x1={62} x2={513} ly={1494} />
      <T x={150} y={1540} anchor="middle" size={21} weight="bold" segs={['CD4', ['+', 'sup'], ' TCRβ', ['+', 'sup'], ' cells']} />
      <T x={421} y={1540} anchor="middle" size={21} weight="bold" segs={PEPCK} />
      <Scatter x0={63.5} x1={237} yTop={1562} yBot={1736} max={60} ticks={[0, 20, 40, 60]} cats={genoCats}
        catRange={[113.5, 187.5]} groups={duo(hCd4WT, hCd4KO)} catLabels={genoLab} meanW={13} semW={8} />
      <Scatter x0={332} x1={511} yTop={1562} yBot={1736} max={60} ticks={[0, 20, 40, 60]} cats={genoCats}
        catRange={[387, 461]} groups={duo(hTetWT, hTetKO)} catLabels={genoLab} meanW={13} semW={8} />
      <T x={20} y={1650} rotate={-90} anchor="middle" size={20} segs={['p-STAT3 (%)']} />
      <T x={291} y={1650} rotate={-90} anchor="middle" size={20} segs={['p-STAT3 (%)']} />
    </svg>
  );
}
